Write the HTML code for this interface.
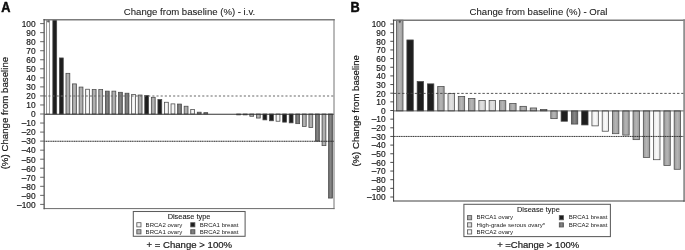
<!DOCTYPE html>
<html><head><meta charset="utf-8"><title>Change from baseline</title>
<style>html,body{margin:0;padding:0;background:#fff;}body{width:685px;height:250px;overflow:hidden;font-family:"Liberation Sans",sans-serif;}svg{display:block;will-change:transform;}</style>
</head><body>
<svg width="685" height="250" viewBox="0 0 685 250">
<defs>
<linearGradient id="gL"><stop offset="0" stop-color="#e6e6e6"/><stop offset="0.5" stop-color="#fafafa"/><stop offset="1" stop-color="#e6e6e6"/></linearGradient>
<linearGradient id="gM"><stop offset="0" stop-color="#9a9a9a"/><stop offset="0.5" stop-color="#b6b6b6"/><stop offset="1" stop-color="#9a9a9a"/></linearGradient>
<linearGradient id="gD"><stop offset="0" stop-color="#626262"/><stop offset="0.5" stop-color="#868686"/><stop offset="1" stop-color="#626262"/></linearGradient>
<linearGradient id="gH"><stop offset="0" stop-color="#cfcfcf"/><stop offset="0.5" stop-color="#e2e2e2"/><stop offset="1" stop-color="#cfcfcf"/></linearGradient>
</defs>
<rect width="685" height="250" fill="#fff"/>
<rect x="46.55" y="19.70" width="2.90" height="94.30" fill="#fbfbfb" stroke="#7a7a7a" stroke-width="0.75"/>
<rect x="52.84" y="19.70" width="3.85" height="94.30" fill="#1e1e1e" stroke="#484848" stroke-width="0.75"/>
<rect x="59.41" y="57.95" width="3.85" height="56.05" fill="#1e1e1e" stroke="#484848" stroke-width="0.75"/>
<rect x="65.97" y="73.32" width="3.85" height="40.68" fill="url(#gM)" stroke="#484848" stroke-width="0.75"/>
<rect x="72.54" y="83.90" width="3.85" height="30.10" fill="url(#gM)" stroke="#484848" stroke-width="0.75"/>
<rect x="79.11" y="87.06" width="3.85" height="26.94" fill="url(#gM)" stroke="#484848" stroke-width="0.75"/>
<rect x="85.67" y="89.23" width="3.85" height="24.77" fill="url(#gL)" stroke="#484848" stroke-width="0.75"/>
<rect x="92.24" y="89.59" width="3.85" height="24.41" fill="url(#gM)" stroke="#484848" stroke-width="0.75"/>
<rect x="98.80" y="89.59" width="3.85" height="24.41" fill="url(#gM)" stroke="#484848" stroke-width="0.75"/>
<rect x="105.37" y="91.13" width="3.85" height="22.87" fill="url(#gD)" stroke="#484848" stroke-width="0.75"/>
<rect x="111.94" y="91.13" width="3.85" height="22.87" fill="url(#gM)" stroke="#484848" stroke-width="0.75"/>
<rect x="118.50" y="92.30" width="3.85" height="21.70" fill="url(#gD)" stroke="#484848" stroke-width="0.75"/>
<rect x="125.07" y="93.21" width="3.85" height="20.79" fill="url(#gD)" stroke="#484848" stroke-width="0.75"/>
<rect x="131.63" y="94.56" width="3.85" height="19.44" fill="url(#gL)" stroke="#484848" stroke-width="0.75"/>
<rect x="138.20" y="95.02" width="3.85" height="18.98" fill="url(#gM)" stroke="#484848" stroke-width="0.75"/>
<rect x="144.76" y="95.47" width="3.85" height="18.53" fill="#1e1e1e" stroke="#484848" stroke-width="0.75"/>
<rect x="151.33" y="97.28" width="3.85" height="16.72" fill="url(#gM)" stroke="#484848" stroke-width="0.75"/>
<rect x="157.90" y="99.54" width="3.85" height="14.46" fill="#1e1e1e" stroke="#484848" stroke-width="0.75"/>
<rect x="164.46" y="102.25" width="3.85" height="11.75" fill="url(#gL)" stroke="#484848" stroke-width="0.75"/>
<rect x="171.03" y="103.88" width="3.85" height="10.12" fill="url(#gL)" stroke="#484848" stroke-width="0.75"/>
<rect x="177.59" y="104.06" width="3.85" height="9.94" fill="url(#gD)" stroke="#484848" stroke-width="0.75"/>
<rect x="184.16" y="106.23" width="3.85" height="7.77" fill="url(#gM)" stroke="#484848" stroke-width="0.75"/>
<rect x="190.73" y="109.48" width="3.85" height="4.52" fill="url(#gL)" stroke="#484848" stroke-width="0.75"/>
<rect x="197.29" y="112.19" width="3.85" height="1.81" fill="url(#gD)" stroke="#484848" stroke-width="0.75"/>
<rect x="203.86" y="112.64" width="3.85" height="1.36" fill="url(#gD)" stroke="#484848" stroke-width="0.75"/>
<rect x="236.69" y="114.00" width="3.85" height="0.90" fill="url(#gD)" stroke="#484848" stroke-width="0.75"/>
<rect x="243.25" y="114.00" width="3.85" height="0.90" fill="url(#gD)" stroke="#484848" stroke-width="0.75"/>
<rect x="249.82" y="114.00" width="3.85" height="2.26" fill="url(#gM)" stroke="#484848" stroke-width="0.75"/>
<rect x="256.39" y="114.00" width="3.85" height="4.07" fill="url(#gM)" stroke="#484848" stroke-width="0.75"/>
<rect x="262.95" y="114.00" width="3.85" height="5.88" fill="#1e1e1e" stroke="#484848" stroke-width="0.75"/>
<rect x="269.52" y="114.00" width="3.85" height="6.78" fill="#1e1e1e" stroke="#484848" stroke-width="0.75"/>
<rect x="276.08" y="114.00" width="3.85" height="7.23" fill="url(#gL)" stroke="#484848" stroke-width="0.75"/>
<rect x="282.65" y="114.00" width="3.85" height="8.14" fill="#1e1e1e" stroke="#484848" stroke-width="0.75"/>
<rect x="289.22" y="114.00" width="3.85" height="8.86" fill="#1e1e1e" stroke="#484848" stroke-width="0.75"/>
<rect x="295.78" y="114.00" width="3.85" height="9.67" fill="url(#gD)" stroke="#484848" stroke-width="0.75"/>
<rect x="302.35" y="114.00" width="3.85" height="12.38" fill="url(#gM)" stroke="#484848" stroke-width="0.75"/>
<rect x="308.91" y="114.00" width="3.85" height="13.56" fill="url(#gM)" stroke="#484848" stroke-width="0.75"/>
<rect x="315.48" y="114.00" width="3.85" height="27.12" fill="url(#gD)" stroke="#484848" stroke-width="0.75"/>
<rect x="322.05" y="114.00" width="3.85" height="31.64" fill="url(#gM)" stroke="#484848" stroke-width="0.75"/>
<rect x="328.61" y="114.00" width="3.85" height="84.07" fill="url(#gD)" stroke="#484848" stroke-width="0.75"/>
<line x1="44.15" y1="114.2" x2="334.0" y2="114.2" stroke="#333" stroke-width="1.05"/>
<line x1="44.15" y1="96.00" x2="334.0" y2="96.00" stroke="#696969" stroke-width="1.2" stroke-dasharray="2.1 2.06"/>
<line x1="44.15" y1="141.25" x2="334.0" y2="141.25" stroke="#262626" stroke-width="1.1" stroke-dasharray="1.3 0.45"/>
<line x1="44.15" y1="19.7" x2="334.0" y2="19.7" stroke="#7c7c7c" stroke-width="1.4" stroke-linecap="square"/>
<line x1="334.0" y1="19.7" x2="334.0" y2="208.6" stroke="#747474" stroke-width="1.0" stroke-linecap="square"/>
<line x1="44.15" y1="208.6" x2="334.0" y2="208.6" stroke="#6a6a6a" stroke-width="1.0" stroke-linecap="square"/>
<line x1="44.15" y1="19.7" x2="44.15" y2="208.6" stroke="#555" stroke-width="1.25" stroke-linecap="square"/>
<line x1="40.15" y1="204.40" x2="44.15" y2="204.40" stroke="#555" stroke-width="0.9"/>
<text transform="translate(35.6 207.70) scale(0.88 1)" font-size="9.5" text-anchor="end" font-family="Liberation Sans, sans-serif" stroke="#1a1a1a" stroke-width="0.2" fill="#1a1a1a">–100</text>
<line x1="40.15" y1="195.36" x2="44.15" y2="195.36" stroke="#555" stroke-width="0.9"/>
<text transform="translate(35.6 198.66) scale(0.88 1)" font-size="9.5" text-anchor="end" font-family="Liberation Sans, sans-serif" stroke="#1a1a1a" stroke-width="0.2" fill="#1a1a1a">–90</text>
<line x1="40.15" y1="186.32" x2="44.15" y2="186.32" stroke="#555" stroke-width="0.9"/>
<text transform="translate(35.6 189.62) scale(0.88 1)" font-size="9.5" text-anchor="end" font-family="Liberation Sans, sans-serif" stroke="#1a1a1a" stroke-width="0.2" fill="#1a1a1a">–80</text>
<line x1="40.15" y1="177.28" x2="44.15" y2="177.28" stroke="#555" stroke-width="0.9"/>
<text transform="translate(35.6 180.58) scale(0.88 1)" font-size="9.5" text-anchor="end" font-family="Liberation Sans, sans-serif" stroke="#1a1a1a" stroke-width="0.2" fill="#1a1a1a">–70</text>
<line x1="40.15" y1="168.24" x2="44.15" y2="168.24" stroke="#555" stroke-width="0.9"/>
<text transform="translate(35.6 171.54) scale(0.88 1)" font-size="9.5" text-anchor="end" font-family="Liberation Sans, sans-serif" stroke="#1a1a1a" stroke-width="0.2" fill="#1a1a1a">–60</text>
<line x1="40.15" y1="159.20" x2="44.15" y2="159.20" stroke="#555" stroke-width="0.9"/>
<text transform="translate(35.6 162.50) scale(0.88 1)" font-size="9.5" text-anchor="end" font-family="Liberation Sans, sans-serif" stroke="#1a1a1a" stroke-width="0.2" fill="#1a1a1a">–50</text>
<line x1="40.15" y1="150.16" x2="44.15" y2="150.16" stroke="#555" stroke-width="0.9"/>
<text transform="translate(35.6 153.46) scale(0.88 1)" font-size="9.5" text-anchor="end" font-family="Liberation Sans, sans-serif" stroke="#1a1a1a" stroke-width="0.2" fill="#1a1a1a">–40</text>
<line x1="40.15" y1="141.12" x2="44.15" y2="141.12" stroke="#555" stroke-width="0.9"/>
<text transform="translate(35.6 144.42) scale(0.88 1)" font-size="9.5" text-anchor="end" font-family="Liberation Sans, sans-serif" stroke="#1a1a1a" stroke-width="0.2" fill="#1a1a1a">–30</text>
<line x1="40.15" y1="132.08" x2="44.15" y2="132.08" stroke="#555" stroke-width="0.9"/>
<text transform="translate(35.6 135.38) scale(0.88 1)" font-size="9.5" text-anchor="end" font-family="Liberation Sans, sans-serif" stroke="#1a1a1a" stroke-width="0.2" fill="#1a1a1a">–20</text>
<line x1="40.15" y1="123.04" x2="44.15" y2="123.04" stroke="#555" stroke-width="0.9"/>
<text transform="translate(35.6 126.34) scale(0.88 1)" font-size="9.5" text-anchor="end" font-family="Liberation Sans, sans-serif" stroke="#1a1a1a" stroke-width="0.2" fill="#1a1a1a">–10</text>
<line x1="40.15" y1="114.00" x2="44.15" y2="114.00" stroke="#555" stroke-width="0.9"/>
<text transform="translate(35.6 117.30) scale(0.88 1)" font-size="9.5" text-anchor="end" font-family="Liberation Sans, sans-serif" stroke="#1a1a1a" stroke-width="0.2" fill="#1a1a1a">0</text>
<line x1="40.15" y1="104.96" x2="44.15" y2="104.96" stroke="#555" stroke-width="0.9"/>
<text transform="translate(35.6 108.26) scale(0.88 1)" font-size="9.5" text-anchor="end" font-family="Liberation Sans, sans-serif" stroke="#1a1a1a" stroke-width="0.2" fill="#1a1a1a">10</text>
<line x1="40.15" y1="95.92" x2="44.15" y2="95.92" stroke="#555" stroke-width="0.9"/>
<text transform="translate(35.6 99.22) scale(0.88 1)" font-size="9.5" text-anchor="end" font-family="Liberation Sans, sans-serif" stroke="#1a1a1a" stroke-width="0.2" fill="#1a1a1a">20</text>
<line x1="40.15" y1="86.88" x2="44.15" y2="86.88" stroke="#555" stroke-width="0.9"/>
<text transform="translate(35.6 90.18) scale(0.88 1)" font-size="9.5" text-anchor="end" font-family="Liberation Sans, sans-serif" stroke="#1a1a1a" stroke-width="0.2" fill="#1a1a1a">30</text>
<line x1="40.15" y1="77.84" x2="44.15" y2="77.84" stroke="#555" stroke-width="0.9"/>
<text transform="translate(35.6 81.14) scale(0.88 1)" font-size="9.5" text-anchor="end" font-family="Liberation Sans, sans-serif" stroke="#1a1a1a" stroke-width="0.2" fill="#1a1a1a">40</text>
<line x1="40.15" y1="68.80" x2="44.15" y2="68.80" stroke="#555" stroke-width="0.9"/>
<text transform="translate(35.6 72.10) scale(0.88 1)" font-size="9.5" text-anchor="end" font-family="Liberation Sans, sans-serif" stroke="#1a1a1a" stroke-width="0.2" fill="#1a1a1a">50</text>
<line x1="40.15" y1="59.76" x2="44.15" y2="59.76" stroke="#555" stroke-width="0.9"/>
<text transform="translate(35.6 63.06) scale(0.88 1)" font-size="9.5" text-anchor="end" font-family="Liberation Sans, sans-serif" stroke="#1a1a1a" stroke-width="0.2" fill="#1a1a1a">60</text>
<line x1="40.15" y1="50.72" x2="44.15" y2="50.72" stroke="#555" stroke-width="0.9"/>
<text transform="translate(35.6 54.02) scale(0.88 1)" font-size="9.5" text-anchor="end" font-family="Liberation Sans, sans-serif" stroke="#1a1a1a" stroke-width="0.2" fill="#1a1a1a">70</text>
<line x1="40.15" y1="41.68" x2="44.15" y2="41.68" stroke="#555" stroke-width="0.9"/>
<text transform="translate(35.6 44.98) scale(0.88 1)" font-size="9.5" text-anchor="end" font-family="Liberation Sans, sans-serif" stroke="#1a1a1a" stroke-width="0.2" fill="#1a1a1a">80</text>
<line x1="40.15" y1="32.64" x2="44.15" y2="32.64" stroke="#555" stroke-width="0.9"/>
<text transform="translate(35.6 35.94) scale(0.88 1)" font-size="9.5" text-anchor="end" font-family="Liberation Sans, sans-serif" stroke="#1a1a1a" stroke-width="0.2" fill="#1a1a1a">90</text>
<line x1="40.15" y1="23.60" x2="44.15" y2="23.60" stroke="#555" stroke-width="0.9"/>
<text transform="translate(35.6 26.90) scale(0.88 1)" font-size="9.5" text-anchor="end" font-family="Liberation Sans, sans-serif" stroke="#1a1a1a" stroke-width="0.2" fill="#1a1a1a">100</text>
<text x="189.5" y="14.5" font-size="9.58" text-anchor="middle" font-family="Liberation Sans, sans-serif" stroke="#1a1a1a" stroke-width="0.08" fill="#1a1a1a">Change from baseline (%) - i.v.</text>
<text transform="translate(1.2 11.8) scale(1 1.08)" font-size="12.8" font-weight="bold" font-family="Liberation Sans, sans-serif" fill="#0c0c0c" stroke="#0c0c0c" stroke-width="0.45" stroke-linejoin="round">A</text>
<text transform="translate(8.4 113.1) rotate(-90)" font-size="9.7" text-anchor="middle" font-family="Liberation Sans, sans-serif" stroke="#1a1a1a" stroke-width="0.2" fill="#1a1a1a">(%) Change from baseline</text>
<path d="M47.0 21.3 H49.400000000000006 M48.2 20.1 V22.7" stroke="#333" stroke-width="0.7" fill="none"/>
<rect x="396.60" y="20.15" width="6.40" height="90.75" fill="url(#gM)" stroke="#484848" stroke-width="0.75"/>
<rect x="406.88" y="39.95" width="6.40" height="70.95" fill="#1e1e1e" stroke="#484848" stroke-width="0.75"/>
<rect x="417.16" y="81.53" width="6.40" height="29.37" fill="#1e1e1e" stroke="#484848" stroke-width="0.75"/>
<rect x="427.44" y="83.86" width="6.40" height="27.04" fill="#1e1e1e" stroke="#484848" stroke-width="0.75"/>
<rect x="437.72" y="86.53" width="6.40" height="24.37" fill="url(#gM)" stroke="#484848" stroke-width="0.75"/>
<rect x="448.00" y="93.50" width="6.40" height="17.40" fill="url(#gH)" stroke="#484848" stroke-width="0.75"/>
<rect x="458.28" y="96.43" width="6.40" height="14.47" fill="url(#gM)" stroke="#484848" stroke-width="0.75"/>
<rect x="468.56" y="98.50" width="6.40" height="12.40" fill="url(#gM)" stroke="#484848" stroke-width="0.75"/>
<rect x="478.84" y="100.39" width="6.40" height="10.51" fill="url(#gH)" stroke="#484848" stroke-width="0.75"/>
<rect x="489.12" y="100.39" width="6.40" height="10.51" fill="url(#gH)" stroke="#484848" stroke-width="0.75"/>
<rect x="499.40" y="100.65" width="6.40" height="10.25" fill="url(#gM)" stroke="#484848" stroke-width="0.75"/>
<rect x="509.68" y="103.49" width="6.40" height="7.41" fill="url(#gM)" stroke="#484848" stroke-width="0.75"/>
<rect x="519.96" y="106.33" width="6.40" height="4.57" fill="url(#gM)" stroke="#484848" stroke-width="0.75"/>
<rect x="530.24" y="107.97" width="6.40" height="2.93" fill="url(#gM)" stroke="#484848" stroke-width="0.75"/>
<rect x="540.52" y="109.52" width="6.40" height="1.38" fill="url(#gD)" stroke="#484848" stroke-width="0.75"/>
<rect x="550.80" y="110.90" width="6.40" height="7.75" fill="url(#gM)" stroke="#484848" stroke-width="0.75"/>
<rect x="561.08" y="110.90" width="6.40" height="10.33" fill="#1e1e1e" stroke="#484848" stroke-width="0.75"/>
<rect x="571.36" y="110.90" width="6.40" height="13.17" fill="url(#gD)" stroke="#484848" stroke-width="0.75"/>
<rect x="581.64" y="110.90" width="6.40" height="14.03" fill="#1e1e1e" stroke="#484848" stroke-width="0.75"/>
<rect x="591.92" y="110.90" width="6.40" height="14.98" fill="url(#gL)" stroke="#484848" stroke-width="0.75"/>
<rect x="602.20" y="110.90" width="6.40" height="20.32" fill="url(#gL)" stroke="#484848" stroke-width="0.75"/>
<rect x="612.48" y="110.90" width="6.40" height="22.82" fill="url(#gM)" stroke="#484848" stroke-width="0.75"/>
<rect x="622.76" y="110.90" width="6.40" height="24.19" fill="url(#gM)" stroke="#484848" stroke-width="0.75"/>
<rect x="633.04" y="110.90" width="6.40" height="28.76" fill="url(#gM)" stroke="#484848" stroke-width="0.75"/>
<rect x="643.32" y="110.90" width="6.40" height="46.49" fill="url(#gM)" stroke="#484848" stroke-width="0.75"/>
<rect x="653.60" y="110.90" width="6.40" height="48.82" fill="url(#gL)" stroke="#484848" stroke-width="0.75"/>
<rect x="663.88" y="110.90" width="6.40" height="54.50" fill="url(#gM)" stroke="#484848" stroke-width="0.75"/>
<rect x="674.16" y="110.90" width="6.40" height="58.38" fill="url(#gM)" stroke="#484848" stroke-width="0.75"/>
<line x1="393.6" y1="110.9" x2="684.1" y2="110.9" stroke="#3a3a3a" stroke-width="0.8"/>
<line x1="393.6" y1="93.40" x2="684.1" y2="93.40" stroke="#444" stroke-width="0.9" stroke-dasharray="2.4 1.83"/>
<line x1="393.6" y1="136.45" x2="684.1" y2="136.45" stroke="#2a2a2a" stroke-width="0.95" stroke-dasharray="1.3 0.45"/>
<line x1="393.6" y1="20.15" x2="684.1" y2="20.15" stroke="#787878" stroke-width="1.5" stroke-linecap="square"/>
<line x1="684.1" y1="20.15" x2="684.1" y2="201.0" stroke="#858585" stroke-width="1.6" stroke-linecap="square"/>
<line x1="393.6" y1="201.0" x2="684.1" y2="201.0" stroke="#383838" stroke-width="0.95" stroke-linecap="square"/>
<line x1="393.6" y1="20.15" x2="393.6" y2="201.0" stroke="#383838" stroke-width="0.95" stroke-linecap="square"/>
<line x1="390.3" y1="197.00" x2="393.6" y2="197.00" stroke="#383838" stroke-width="0.9"/>
<text transform="translate(385.6 200.30) scale(0.88 1)" font-size="9.5" text-anchor="end" font-family="Liberation Sans, sans-serif" stroke="#1a1a1a" stroke-width="0.2" fill="#1a1a1a">–100</text>
<line x1="390.3" y1="188.35" x2="393.6" y2="188.35" stroke="#383838" stroke-width="0.9"/>
<text transform="translate(385.6 191.65) scale(0.88 1)" font-size="9.5" text-anchor="end" font-family="Liberation Sans, sans-serif" stroke="#1a1a1a" stroke-width="0.2" fill="#1a1a1a">–90</text>
<line x1="390.3" y1="179.70" x2="393.6" y2="179.70" stroke="#383838" stroke-width="0.9"/>
<text transform="translate(385.6 183.00) scale(0.88 1)" font-size="9.5" text-anchor="end" font-family="Liberation Sans, sans-serif" stroke="#1a1a1a" stroke-width="0.2" fill="#1a1a1a">–80</text>
<line x1="390.3" y1="171.05" x2="393.6" y2="171.05" stroke="#383838" stroke-width="0.9"/>
<text transform="translate(385.6 174.35) scale(0.88 1)" font-size="9.5" text-anchor="end" font-family="Liberation Sans, sans-serif" stroke="#1a1a1a" stroke-width="0.2" fill="#1a1a1a">–70</text>
<line x1="390.3" y1="162.40" x2="393.6" y2="162.40" stroke="#383838" stroke-width="0.9"/>
<text transform="translate(385.6 165.70) scale(0.88 1)" font-size="9.5" text-anchor="end" font-family="Liberation Sans, sans-serif" stroke="#1a1a1a" stroke-width="0.2" fill="#1a1a1a">–60</text>
<line x1="390.3" y1="153.75" x2="393.6" y2="153.75" stroke="#383838" stroke-width="0.9"/>
<text transform="translate(385.6 157.05) scale(0.88 1)" font-size="9.5" text-anchor="end" font-family="Liberation Sans, sans-serif" stroke="#1a1a1a" stroke-width="0.2" fill="#1a1a1a">–50</text>
<line x1="390.3" y1="145.10" x2="393.6" y2="145.10" stroke="#383838" stroke-width="0.9"/>
<text transform="translate(385.6 148.40) scale(0.88 1)" font-size="9.5" text-anchor="end" font-family="Liberation Sans, sans-serif" stroke="#1a1a1a" stroke-width="0.2" fill="#1a1a1a">–40</text>
<line x1="390.3" y1="136.45" x2="393.6" y2="136.45" stroke="#383838" stroke-width="0.9"/>
<text transform="translate(385.6 139.75) scale(0.88 1)" font-size="9.5" text-anchor="end" font-family="Liberation Sans, sans-serif" stroke="#1a1a1a" stroke-width="0.2" fill="#1a1a1a">–30</text>
<line x1="390.3" y1="127.80" x2="393.6" y2="127.80" stroke="#383838" stroke-width="0.9"/>
<text transform="translate(385.6 131.10) scale(0.88 1)" font-size="9.5" text-anchor="end" font-family="Liberation Sans, sans-serif" stroke="#1a1a1a" stroke-width="0.2" fill="#1a1a1a">–20</text>
<line x1="390.3" y1="119.15" x2="393.6" y2="119.15" stroke="#383838" stroke-width="0.9"/>
<text transform="translate(385.6 122.45) scale(0.88 1)" font-size="9.5" text-anchor="end" font-family="Liberation Sans, sans-serif" stroke="#1a1a1a" stroke-width="0.2" fill="#1a1a1a">–10</text>
<line x1="390.3" y1="110.50" x2="393.6" y2="110.50" stroke="#383838" stroke-width="0.9"/>
<text transform="translate(385.6 113.80) scale(0.88 1)" font-size="9.5" text-anchor="end" font-family="Liberation Sans, sans-serif" stroke="#1a1a1a" stroke-width="0.2" fill="#1a1a1a">0</text>
<line x1="390.3" y1="101.85" x2="393.6" y2="101.85" stroke="#383838" stroke-width="0.9"/>
<text transform="translate(385.6 105.15) scale(0.88 1)" font-size="9.5" text-anchor="end" font-family="Liberation Sans, sans-serif" stroke="#1a1a1a" stroke-width="0.2" fill="#1a1a1a">10</text>
<line x1="390.3" y1="93.20" x2="393.6" y2="93.20" stroke="#383838" stroke-width="0.9"/>
<text transform="translate(385.6 96.50) scale(0.88 1)" font-size="9.5" text-anchor="end" font-family="Liberation Sans, sans-serif" stroke="#1a1a1a" stroke-width="0.2" fill="#1a1a1a">20</text>
<line x1="390.3" y1="84.55" x2="393.6" y2="84.55" stroke="#383838" stroke-width="0.9"/>
<text transform="translate(385.6 87.85) scale(0.88 1)" font-size="9.5" text-anchor="end" font-family="Liberation Sans, sans-serif" stroke="#1a1a1a" stroke-width="0.2" fill="#1a1a1a">30</text>
<line x1="390.3" y1="75.90" x2="393.6" y2="75.90" stroke="#383838" stroke-width="0.9"/>
<text transform="translate(385.6 79.20) scale(0.88 1)" font-size="9.5" text-anchor="end" font-family="Liberation Sans, sans-serif" stroke="#1a1a1a" stroke-width="0.2" fill="#1a1a1a">40</text>
<line x1="390.3" y1="67.25" x2="393.6" y2="67.25" stroke="#383838" stroke-width="0.9"/>
<text transform="translate(385.6 70.55) scale(0.88 1)" font-size="9.5" text-anchor="end" font-family="Liberation Sans, sans-serif" stroke="#1a1a1a" stroke-width="0.2" fill="#1a1a1a">50</text>
<line x1="390.3" y1="58.60" x2="393.6" y2="58.60" stroke="#383838" stroke-width="0.9"/>
<text transform="translate(385.6 61.90) scale(0.88 1)" font-size="9.5" text-anchor="end" font-family="Liberation Sans, sans-serif" stroke="#1a1a1a" stroke-width="0.2" fill="#1a1a1a">60</text>
<line x1="390.3" y1="49.95" x2="393.6" y2="49.95" stroke="#383838" stroke-width="0.9"/>
<text transform="translate(385.6 53.25) scale(0.88 1)" font-size="9.5" text-anchor="end" font-family="Liberation Sans, sans-serif" stroke="#1a1a1a" stroke-width="0.2" fill="#1a1a1a">70</text>
<line x1="390.3" y1="41.30" x2="393.6" y2="41.30" stroke="#383838" stroke-width="0.9"/>
<text transform="translate(385.6 44.60) scale(0.88 1)" font-size="9.5" text-anchor="end" font-family="Liberation Sans, sans-serif" stroke="#1a1a1a" stroke-width="0.2" fill="#1a1a1a">80</text>
<line x1="390.3" y1="32.65" x2="393.6" y2="32.65" stroke="#383838" stroke-width="0.9"/>
<text transform="translate(385.6 35.95) scale(0.88 1)" font-size="9.5" text-anchor="end" font-family="Liberation Sans, sans-serif" stroke="#1a1a1a" stroke-width="0.2" fill="#1a1a1a">90</text>
<line x1="390.3" y1="24.00" x2="393.6" y2="24.00" stroke="#383838" stroke-width="0.9"/>
<text transform="translate(385.6 27.30) scale(0.88 1)" font-size="9.5" text-anchor="end" font-family="Liberation Sans, sans-serif" stroke="#1a1a1a" stroke-width="0.2" fill="#1a1a1a">100</text>
<text x="538.5" y="14.5" font-size="9.58" text-anchor="middle" font-family="Liberation Sans, sans-serif" stroke="#1a1a1a" stroke-width="0.08" fill="#1a1a1a">Change from baseline (%) - Oral</text>
<text transform="translate(350.6 11.8) scale(1 1.08)" font-size="12.8" font-weight="bold" font-family="Liberation Sans, sans-serif" fill="#0c0c0c" stroke="#0c0c0c" stroke-width="0.45" stroke-linejoin="round">B</text>
<text transform="translate(358.9 110.9) rotate(-90)" font-size="9.6" text-anchor="middle" font-family="Liberation Sans, sans-serif" stroke="#1a1a1a" stroke-width="0.2" fill="#1a1a1a">(%) Change from baseline</text>
<path d="M398.6 21.75 H401.0 M399.8 20.55 V23.15" stroke="#333" stroke-width="0.7" fill="none"/>
<rect x="133.3" y="211.5" width="111.79999999999998" height="24.80000000000001" fill="#fff" stroke="#5c5c5c" stroke-width="1.05"/>
<text x="189" y="218.8" font-size="7.4" text-anchor="middle" font-family="Liberation Sans, sans-serif" stroke="#1a1a1a" stroke-width="0.1" fill="#1a1a1a">Disease type</text>
<rect x="136.8" y="222.70000000000002" width="4.2" height="4.2" fill="url(#gL)" stroke="#555" stroke-width="0.8"/>
<text x="145.6" y="226.55" font-size="6.05" font-family="Liberation Sans, sans-serif" fill="#1c1c1c">BRCA2 ovary</text>
<rect x="190.7" y="222.70000000000002" width="4.2" height="4.2" fill="#1e1e1e" stroke="#555" stroke-width="0.8"/>
<text x="199.8" y="226.55" font-size="6.05" font-family="Liberation Sans, sans-serif" fill="#1c1c1c">BRCA1 breast</text>
<rect x="136.8" y="229.70000000000002" width="4.2" height="4.2" fill="url(#gM)" stroke="#555" stroke-width="0.8"/>
<text x="145.6" y="233.55" font-size="6.05" font-family="Liberation Sans, sans-serif" fill="#1c1c1c">BRCA1 ovary</text>
<rect x="190.7" y="229.70000000000002" width="4.2" height="4.2" fill="url(#gD)" stroke="#555" stroke-width="0.8"/>
<text x="199.8" y="233.55" font-size="6.05" font-family="Liberation Sans, sans-serif" fill="#1c1c1c">BRCA2 breast</text>
<text x="189.3" y="247.6" font-size="9.6" text-anchor="middle" font-family="Liberation Sans, sans-serif" stroke="#1a1a1a" stroke-width="0.2" fill="#1a1a1a">+ = Change &gt; 100%</text>
<rect x="463.9" y="204.3" width="146.5" height="32.29999999999998" fill="#fff" stroke="#5c5c5c" stroke-width="1.05"/>
<text x="538.4" y="212.1" font-size="7.4" text-anchor="middle" font-family="Liberation Sans, sans-serif" stroke="#1a1a1a" stroke-width="0.1" fill="#1a1a1a">Disease type</text>
<rect x="467.5" y="215.6" width="4.2" height="4.2" fill="url(#gM)" stroke="#555" stroke-width="0.8"/>
<text x="476.5" y="219.45" font-size="6.05" font-family="Liberation Sans, sans-serif" fill="#1c1c1c">BRCA1 ovary</text>
<rect x="559.3" y="215.6" width="4.2" height="4.2" fill="#1e1e1e" stroke="#555" stroke-width="0.8"/>
<text x="568.8" y="219.45" font-size="6.05" font-family="Liberation Sans, sans-serif" fill="#1c1c1c">BRCA1 breast</text>
<rect x="467.5" y="222.8" width="4.2" height="4.2" fill="url(#gH)" stroke="#555" stroke-width="0.8"/>
<text x="476.5" y="226.65" font-size="6.05" font-family="Liberation Sans, sans-serif" fill="#1c1c1c">High-grade serous ovary*</text>
<rect x="559.3" y="222.8" width="4.2" height="4.2" fill="url(#gD)" stroke="#555" stroke-width="0.8"/>
<text x="568.8" y="226.65" font-size="6.05" font-family="Liberation Sans, sans-serif" fill="#1c1c1c">BRCA2 breast</text>
<rect x="467.5" y="229.8" width="4.2" height="4.2" fill="url(#gL)" stroke="#555" stroke-width="0.8"/>
<text x="476.5" y="233.65" font-size="6.05" font-family="Liberation Sans, sans-serif" fill="#1c1c1c">BRCA2 ovary</text>
<text x="538.2" y="248.0" font-size="9.5" text-anchor="middle" font-family="Liberation Sans, sans-serif" stroke="#1a1a1a" stroke-width="0.2" fill="#1a1a1a">+ =Change &gt; 100%</text>
</svg>
</body></html>
